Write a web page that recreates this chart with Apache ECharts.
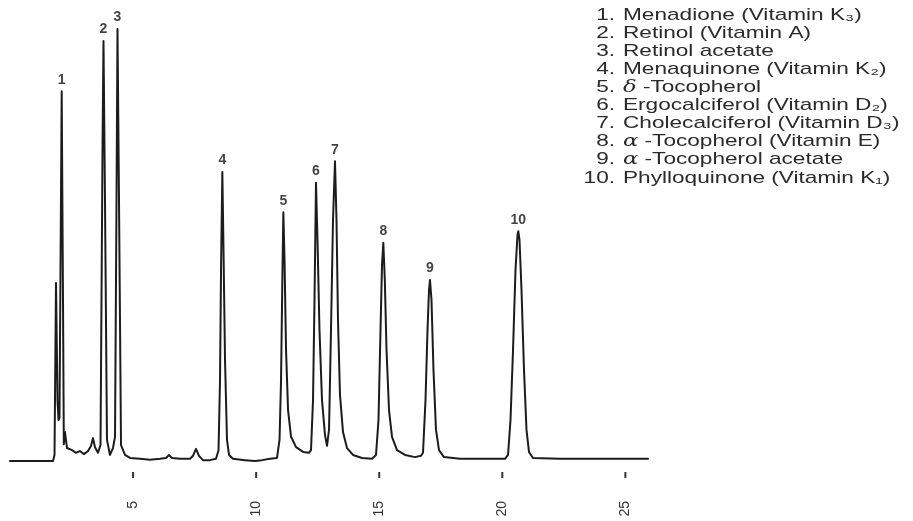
<!DOCTYPE html>
<html>
<head>
<meta charset="utf-8">
<script src="https://cdn.jsdelivr.net/npm/echarts@6/dist/echarts.min.js"></script>
<style>
html,body{margin:0;padding:0;background:#fff;}
#c{width:913px;height:521px;}
</style>
</head>
<body>
<div id="c"></div>
<script>
// Retention time (min) and detector signal (% of largest peak)
var traceTime = [
  0, 1.747, 1.808, 1.869, 1.93, 1.97, 2.011, 2.1, 2.153, 2.186, 2.234, 2.316, 2.519, 2.68, 2.84,
  3.006, 3.17, 3.29, 3.372, 3.453, 3.575, 3.677, 3.758, 3.798, 3.859, 3.94, 4.062, 4.184, 4.266,
  4.327, 4.367, 4.428, 4.51, 4.672, 4.875, 5.281, 5.688, 6.094, 6.338, 6.459, 6.581, 6.906, 7.313,
  7.434, 7.556, 7.678, 7.841, 8.125, 8.369, 8.471, 8.532, 8.573, 8.626, 8.674, 8.735, 8.816, 8.898,
  9.06, 9.547, 9.953, 10.238, 10.563, 10.847, 10.95, 11.011, 11.064, 11.105, 11.153, 11.214, 11.296,
  11.418, 11.621, 11.906, 12.147, 12.228, 12.31, 12.37, 12.431, 12.492, 12.573, 12.675, 12.797,
  12.878, 12.96, 13.041, 13.122, 13.203, 13.264, 13.325, 13.406, 13.528, 13.691, 13.935, 14.3,
  14.706, 14.869, 14.97, 15.052, 15.113, 15.166, 15.227, 15.296, 15.397, 15.519, 15.722, 16.047,
  16.453, 16.697, 16.778, 16.88, 16.961, 17.022, 17.062, 17.123, 17.204, 17.306, 17.428, 17.631,
  18.281, 19.094, 20.11, 20.232, 20.333, 20.435, 20.536, 20.617, 20.65, 20.698, 20.78, 20.881,
  20.983, 21.084, 21.247, 22.343, 23.562, 24.781, 25.92
];
var traceSignal = [
  0, 0, 1.4, 41.2, 14.1, 9.5, 10.0, 85.6, 37.3, 3.9, 6.7, 3.0, 2.5, 1.9, 2.3,
  1.6, 2.3, 3.5, 5.3, 3.2, 1.9, 3.7, 72, 97.2, 60.4, 4.9, 1.4, 3.0, 5.6,
  60.4, 100, 60.4, 3.7, 1.4, 0.7, 0.5, 0.3, 0.5, 0.7, 1.4, 0.7, 0.5, 0.5,
  1.2, 2.8, 1.2, 0.2, 0.2, 0.5, 2.5, 18.75, 44.2, 66.9, 48.8, 23.4, 4.9, 1.4,
  0.5, 0.2, 0, 0.2, 0.5, 0.7, 4.9, 18.75, 41.9, 57.6, 46.5, 25.7, 11.8,
  5.6, 3.2, 2.1, 1.9, 2.5, 14.1, 37.3, 64.4, 51.2, 30.3, 14.1, 6.0,
  3.5, 7.2, 30.3, 55.8, 69.4, 55.8, 32.6, 15.3, 6.7, 3.0, 1.4, 0.7,
  0.5, 1.4, 9.5, 30.3, 45.4, 50.5, 41.9, 25.7, 11.8, 5.6, 2.5, 1.4,
  0.9, 1.2, 1.9, 14.1, 30.3, 39.6, 41.9, 37.3, 21.1, 7.2, 2.5, 0.9,
  0.5, 0.5, 0.5, 1.4, 9.5, 25.7, 44.2, 52.3, 53.2, 51.2, 39.6, 21.1,
  7.2, 2.1, 0.7, 0.5, 0.5, 0.5, 0.5
];
// Peak apexes and their numbers
var peakTime = [2.1, 3.798, 4.367, 8.626, 11.105, 12.431, 13.203, 15.166, 17.062, 20.65];
var peakHeight = [85.6, 97.2, 100, 66.9, 57.6, 64.4, 69.4, 50.5, 41.9, 53.2];
var peakNumbers = ['1', '2', '3', '4', '5', '6', '7', '8', '9', '10'];
// Key
var compoundNumbers = ['1.', '2.', '3.', '4.', '5.', '6.', '7.', '8.', '9.', '10.'];
var compoundNames = [
  'Menadione (Vitamin K\u2083)',
  'Retinol (Vitamin A)',
  'Retinol acetate',
  'Menaquinone (Vitamin K\u2082)',
  '{g|\u03b4} -Tocopherol',
  'Ergocalciferol (Vitamin D\u2082)',
  'Cholecalciferol (Vitamin D\u2083)',
  '{g|\u03b1} -Tocopherol (Vitamin E)',
  '{g|\u03b1} -Tocopherol acetate',
  'Phylloquinone (Vitamin K\u2081)'
];
// Time axis: full range and the labelled ticks
var timeMin = 0, timeMax = 26;
var tickValues = [5, 10, 15, 20, 25];
var tickMin = 5, tickMax = 25, tickStep = 5;

var FONT = '"Liberation Sans", Arial, Helvetica, sans-serif';
var chart = echarts.init(document.getElementById('c'), null, {renderer: 'canvas'});

var traceData = traceTime.map(function (t, i) { return [t, traceSignal[i]]; });
var peakData = peakTime.map(function (t, i) { return [t, peakHeight[i]]; });

// plot area
var plotLeft = 10, plotWidth = 640, plotTop = 29, plotBottom = 60;
var pxPerMin = plotWidth / (timeMax - timeMin);
var tickGridLeft = plotLeft + (tickMin - timeMin) * pxPerMin;
var tickGridRight = 913 - (plotLeft + (tickMax - timeMin) * pxPerMin);

var graphics = [];
compoundNames.forEach(function (name, i) {
  var y = 15 + 18.1 * i;
  graphics.push({
    type: 'text', id: 'num' + i, x: 615, y: y, scaleX: 1.33,
    style: {
      text: compoundNumbers[i], fill: '#2a2a2a', font: '17px ' + FONT,
      textAlign: 'right', textVerticalAlign: 'middle'
    }
  });
  graphics.push({
    type: 'text', id: 'name' + i, x: 623, y: y, scaleX: 1.33,
    style: {
      text: name, fill: '#2a2a2a', font: '17px ' + FONT,
      textAlign: 'left', textVerticalAlign: 'middle',
      rich: { g: { fontStyle: 'italic', fontSize: 17, fontFamily: 'DejaVu Serif', fill: '#2a2a2a' } }
    }
  });
});

chart.setOption({
  animation: false,
  backgroundColor: '#ffffff',
  grid: [
    { left: plotLeft, right: 913 - plotLeft - plotWidth, top: plotTop, bottom: plotBottom, containLabel: false },
    // thin strip below the trace that carries the tick labels
    { left: tickGridLeft, right: tickGridRight, top: 472, bottom: 43, containLabel: false }
  ],
  xAxis: [
    { type: 'value', gridIndex: 0, min: timeMin, max: timeMax, show: false },
    {
      type: 'value', gridIndex: 1, min: tickMin, max: tickMax, interval: tickStep,
      axisLine: { show: false },
      axisTick: { show: false },
      splitLine: { show: false },
      axisLabel: {
        show: true, rotate: 90, margin: 23, showMinLabel: true, showMaxLabel: true,
        color: '#333', fontSize: 14, fontFamily: FONT
      }
    }
  ],
  yAxis: [
    { type: 'value', gridIndex: 0, min: 0, max: 100, show: false },
    { type: 'value', gridIndex: 1, min: 0, max: 1, show: false }
  ],
  series: [
    {
      type: 'line', xAxisIndex: 0, yAxisIndex: 0, data: traceData, showSymbol: false, symbol: 'none',
      lineStyle: { color: '#1c1c1c', width: 2, join: 'round', cap: 'round' },
      silent: true, z: 2
    },
    {
      type: 'scatter', xAxisIndex: 0, yAxisIndex: 0, data: peakData, symbolSize: 1,
      itemStyle: { color: 'rgba(0,0,0,0)' },
      label: {
        show: true, position: 'top', distance: 4,
        formatter: function (p) { return peakNumbers[p.dataIndex]; },
        color: '#111', fontSize: 14, fontWeight: 'bold', fontFamily: FONT
      },
      silent: true, z: 3
    }
  ]
});

// Tick dashes placed through the time axis scale, a little below the baseline
function toPx(finder, v, fallback) {
  var p = null;
  try { p = chart.convertToPixel(finder, v); } catch (e) { p = null; }
  if (Array.isArray(p)) { p = p[0]; }
  return (typeof p === 'number' && isFinite(p)) ? p : fallback;
}
var baseY = toPx({ yAxisIndex: 0 }, 0, 521 - plotBottom);
tickValues.forEach(function (v, i) {
  var px = toPx({ xAxisIndex: 0 }, v, plotLeft + (v - timeMin) * pxPerMin);
  graphics.push({
    type: 'rect', id: 'tick' + i, silent: true, z: 10,
    shape: { x: px - 1, y: baseY + 11, width: 2, height: 6 },
    style: { fill: '#333333' }
  });
});
chart.setOption({ graphic: graphics });
</script>
</body>
</html>
